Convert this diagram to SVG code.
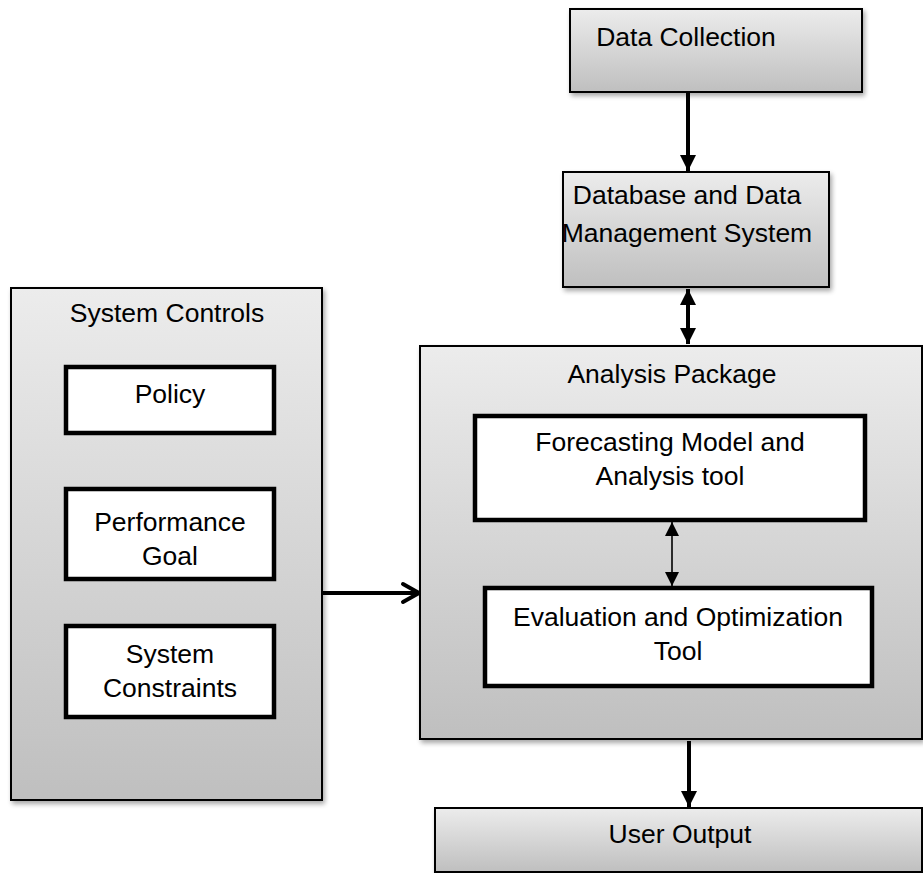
<svg xmlns="http://www.w3.org/2000/svg" width="923" height="873" viewBox="0 0 923 873">
<style>
text{font-family:"Liberation Sans",Arial,sans-serif;font-size:26.5px;fill:#000;text-anchor:middle}
.g{fill:url(#grad);stroke:#000;stroke-width:2;filter:url(#sh)}
.w{fill:#fff;stroke:#000;stroke-width:4.5}
.thick{stroke:#000;stroke-width:4;fill:none}
</style>
<defs>
<linearGradient id="grad" x1="0" y1="0" x2="0" y2="1">
<stop offset="0" stop-color="#ececec"/>
<stop offset="1" stop-color="#bfbfbf"/>
</linearGradient>
<filter id="sh" x="-5%" y="-5%" width="115%" height="115%">
<feGaussianBlur in="SourceAlpha" stdDeviation="2.5"/>
<feOffset dx="2" dy="3" result="b"/>
<feComponentTransfer><feFuncA type="linear" slope="0.35"/></feComponentTransfer>
<feMerge><feMergeNode/><feMergeNode in="SourceGraphic"/></feMerge>
</filter>
<marker id="ah" viewBox="0 0 10 10" refX="10" refY="5" markerWidth="4" markerHeight="4" orient="auto-start-reverse" markerUnits="strokeWidth">
<path d="M0,0 L10,5 L0,10 z" fill="#000"/>
</marker>
<marker id="ahs" viewBox="0 0 10 10" refX="10" refY="5" markerWidth="9" markerHeight="9" orient="auto-start-reverse" markerUnits="strokeWidth">
<path d="M0,0 L10,5 L0,10 z" fill="#000"/>
</marker>
<marker id="chev" viewBox="0 0 12 12" refX="10" refY="6" markerWidth="6" markerHeight="6" orient="auto" markerUnits="strokeWidth">
<path d="M2,1.5 L10,6 L2,10.5" fill="none" stroke="#000" stroke-width="2" stroke-linecap="round" stroke-linejoin="round"/>
</marker>
</defs>

<g id="system-controls">
<rect class="g" x="11" y="288" width="311" height="512"/>
<text x="167" y="322">System Controls</text>
</g>
<g id="policy">
<rect class="w" x="66" y="367" width="208" height="66"/>
<text x="170" y="403">Policy</text>
</g>
<g id="performance-goal">
<rect class="w" x="66" y="489" width="208" height="90"/>
<text x="170" y="531">Performance</text>
<text x="170" y="565">Goal</text>
</g>
<g id="system-constraints">
<rect class="w" x="66" y="626" width="208" height="91"/>
<text x="170" y="663">System</text>
<text x="170" y="697">Constraints</text>
</g>

<g id="data-collection">
<rect class="g" x="570" y="9" width="292" height="83"/>
<text x="686" y="46">Data Collection</text>
</g>
<g id="database">
<rect class="g" x="563" y="172" width="266" height="115"/>
<text x="687" y="204">Database and Data</text>
<text x="687" y="242">Management System</text>
</g>
<g id="analysis-package">
<rect class="g" x="420" y="346" width="502" height="393"/>
<text x="672" y="383">Analysis Package</text>
</g>
<g id="forecasting">
<rect class="w" x="475" y="416" width="390" height="104"/>
<text x="670" y="451">Forecasting Model and</text>
<text x="670" y="485">Analysis tool</text>
</g>
<g id="evaluation">
<rect class="w" x="485" y="588" width="387" height="98"/>
<text x="678" y="626">Evaluation and Optimization</text>
<text x="678" y="660">Tool</text>
</g>
<g id="user-output">
<rect class="g" x="435" y="808" width="487" height="64"/>
<text x="680" y="843">User Output</text>
</g>

<g id="connectors">
<line class="thick" x1="688" y1="93" x2="688" y2="171" marker-end="url(#ah)"/>
<line class="thick" x1="688" y1="289" x2="688" y2="344" marker-start="url(#ah)" marker-end="url(#ah)"/>
<line class="thick" x1="689" y1="741" x2="689" y2="807" marker-end="url(#ah)"/>
<line class="thick" x1="323" y1="593" x2="419" y2="593" marker-end="url(#chev)"/>
<line stroke="#000" stroke-width="1.6" x1="672" y1="522" x2="672" y2="586" marker-start="url(#ahs)" marker-end="url(#ahs)"/>
</g>
</svg>
